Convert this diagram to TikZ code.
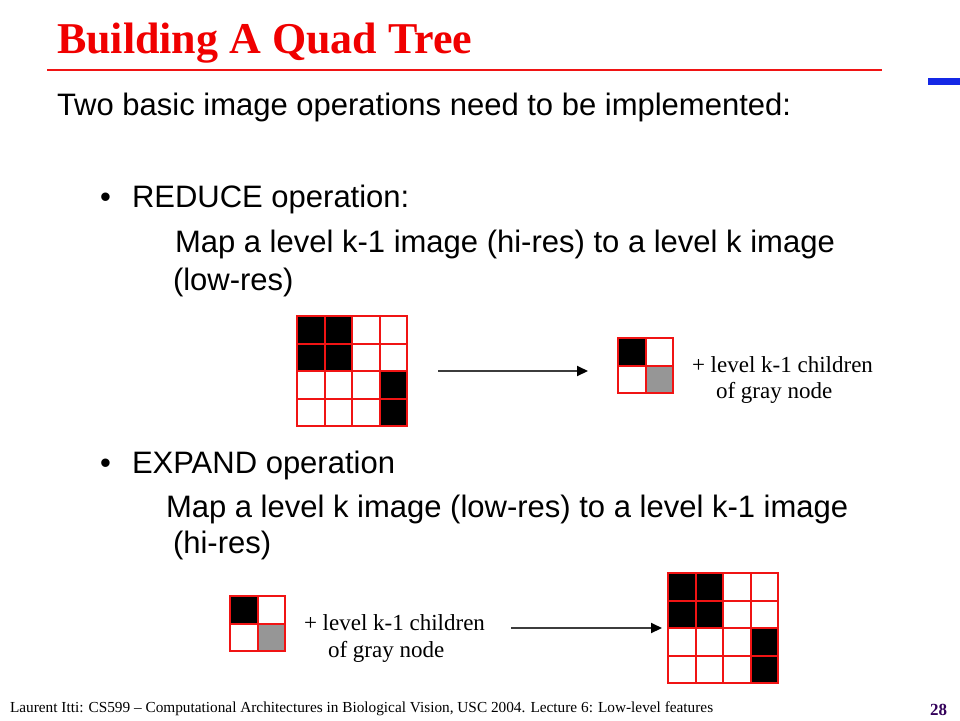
\documentclass[tikz,border=0pt]{standalone}
\usepackage{fontspec}
\setmainfont{Liberation Serif}
\setsansfont{Liberation Sans}
\definecolor{titlered}{RGB}{240,0,0}
\definecolor{gridred}{RGB}{240,20,20}
\definecolor{cellgray}{RGB}{150,150,150}
\definecolor{arrowgray}{RGB}{60,60,60}
\definecolor{pagenum}{RGB}{51,0,90}
\definecolor{accentblue}{RGB}{20,40,230}
\usetikzlibrary{arrows.meta}
\tikzset{
  txt/.style={anchor=base west, inner sep=0pt, outer sep=0pt},
  sans/.style={txt, font=\sffamily\fontsize{31}{31}\selectfont},
  ser/.style={txt, font=\rmfamily\fontsize{23}{23}\selectfont},
  cellw/.style={fill=white, draw=gridred, line width=2pt},
  cellb/.style={fill=black, draw=gridred, line width=2pt},
  cellg/.style={fill=cellgray, draw=gridred, line width=2pt},
  conn/.style={draw=arrowgray, line width=2pt, -{Triangle[length=11pt,width=10pt,fill=black,color=black]}},
}
\begin{document}
\begin{tikzpicture}[x=1pt,y=-1pt]
\useasboundingbox[fill=white] (0,0) rectangle (960,720);
% title
\node[txt, font=\rmfamily\bfseries\fontsize{44}{44}\selectfont, text=titlered] (title) at (57,53) {Building A Quad Tree};
\draw[gridred, line width=1.8pt] (47,70) -- (882,70);
\fill[accentblue] (928,78) rectangle (960,85);
% intro
\node[sans] (intro) at (57,115) {Two basic image operations need to be implemented:};
% reduce
\node[sans] (b1) at (100,207) {\textbullet};
\node[sans] (reduce) at (132,207) {REDUCE operation:};
\node[sans] (r1) at (175,252) {Map a level k-1 image (hi-res) to a level k image};
\node[sans] (r2) at (173,290) {(low-res)};
% expand
\node[sans] (b2) at (100,473) {\textbullet};
\node[sans] (expand) at (132,473) {EXPAND operation};
\node[sans] (e1) at (166,517) {Map a level k image (low-res) to a level k-1 image};
\node[sans] (e2) at (173,553) {(hi-res)};
% big grids (hi-res)
\def\bigcell{27.6}
\foreach \r in {0,...,3}{\foreach \c in {0,...,3}{
  \pgfmathtruncatemacro{\isb}{(\r<2 && \c<2) || (\r>1 && \c==3) ? 1 : 0}
  \ifnum\isb=1 \def\st{cellb}\else\def\st{cellw}\fi
  \draw[\st] ({297+\c*\bigcell},{316+\r*\bigcell}) rectangle ++(\bigcell,\bigcell);
  \draw[\st] ({668+\c*\bigcell},{573+\r*\bigcell}) rectangle ++(\bigcell,\bigcell);
}}
\node[inner sep=0pt, minimum width=110pt, minimum height=110pt] (hiA) at (352.5,371) {};
\node[inner sep=0pt, minimum width=110pt, minimum height=110pt] (hiB) at (723,627.5) {};
% small grids (low-res)
\foreach \ox/\oy in {618/338, 230/596}{
  \draw[cellb] (\ox,\oy) rectangle ++(27.5,27.5);
  \draw[cellw] (\ox+27.5,\oy) rectangle ++(27.5,27.5);
  \draw[cellw] (\ox,\oy+27.5) rectangle ++(27.5,27.5);
  \draw[cellg] (\ox+27.5,\oy+27.5) rectangle ++(27.5,27.5);
}
\node[inner sep=0pt, minimum width=55pt, minimum height=55pt] (loA) at (645.5,365.5) {};
\node[inner sep=0pt, minimum width=55pt, minimum height=55pt] (loB) at (257.5,623.5) {};
% side labels
\node[ser] (la1) at (692,372) {+ level k-1 children};
\node[ser] (la2) at (716,398) {of gray node};
\node[ser] (lb1) at (304,630) {+ level k-1 children};
\node[ser] (lb2) at (328,657) {of gray node};
% arrows
\coordinate (a1s) at (438,371);
\coordinate (a1e) at (588,371);
\coordinate (a2s) at (511,628);
\coordinate (a2e) at (662,628);
\draw[conn] (a1s) -- (a1e);
\draw[conn] (a2s) -- (a2e);
% footer
\node[txt, font=\rmfamily\fontsize{15.3}{15.3}\selectfont] (foot) at (10,712) {Laurent Itti: CS599 -- Computational Architectures in Biological Vision, USC 2004. Lecture 6: Low-level features};
\node[txt, font=\rmfamily\bfseries\fontsize{17}{17}\selectfont, text=pagenum] (num) at (930,715) {28};
\end{tikzpicture}
\end{document}
